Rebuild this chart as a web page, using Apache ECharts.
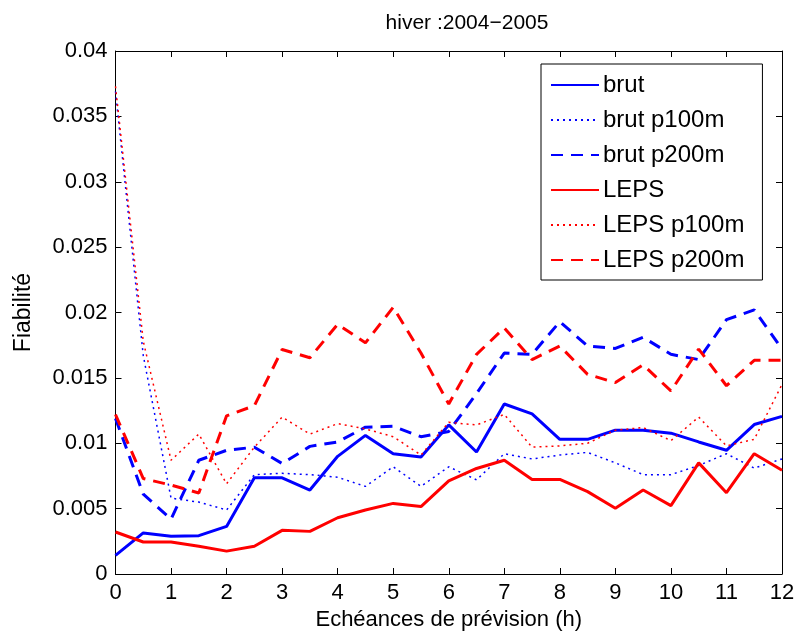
<!DOCTYPE html>
<html>
<head>
<meta charset="utf-8">
<script src="https://cdn.jsdelivr.net/npm/echarts@6/dist/echarts.min.js"></script>
<style>
html,body{margin:0;padding:0;background:#fff;}
#chart{width:800px;height:636px;}
</style>
</head>
<body>
<div id="chart"></div>
<script>
const hours = [0,0.5,1,1.5,2,2.5,3,3.5,4,4.5,5,5.5,6,6.5,7,7.5,8,8.5,9,9.5,10,10.5,11,11.5,12];
const brut = [0.00142,0.00314,0.00288,0.00293,0.00364,0.00736,0.00736,0.00642,0.0090,0.0106,0.0092,0.00895,0.0114,0.00933,0.0130,0.01224,0.0103,0.0103,0.0110,0.0110,0.01077,0.0101,0.00946,0.01143,0.01206];
const brutP100 = [0.0369,0.0167,0.0058,0.0055,0.0049,0.0076,0.0077,0.0076,0.0074,0.0067,0.0082,0.0067,0.0082,0.0072,0.0092,0.0088,0.0091,0.0093,0.0085,0.0076,0.0076,0.0083,0.0092,0.0081,0.0088];
const brutP200 = [0.0119,0.0061,0.0042,0.0087,0.00946,0.0097,0.00845,0.00976,0.0101,0.01123,0.0113,0.0105,0.0109,0.0138,0.0169,0.0168,0.0193,0.01743,0.01725,0.0181,0.0168,0.0164,0.01945,0.0202,0.0172];
const leps = [0.00321,0.00245,0.00245,0.00212,0.00175,0.00212,0.00334,0.00326,0.0043,0.0049,0.0054,0.00516,0.00713,0.00807,0.0087,0.00723,0.00723,0.0063,0.00503,0.00642,0.00523,0.0085,0.00622,0.0092,0.00794];
const lepsP100 = [0.0373,0.0178,0.0087,0.0107,0.0069,0.0097,0.0120,0.0107,0.0115,0.0111,0.0105,0.0091,0.0116,0.0114,0.0122,0.0097,0.0098,0.0100,0.0110,0.0112,0.0102,0.0120,0.0098,0.0103,0.0145];
const lepsP200 = [0.0122,0.0073,0.0068,0.0062,0.0121,0.01287,0.01717,0.01654,0.0191,0.01768,0.0204,0.0169,0.0130,0.0168,0.01882,0.0164,0.01743,0.01527,0.01464,0.0160,0.0140,0.0172,0.0144,0.01634,0.01634];
const xTicks = {min:0, max:12, interval:1};
const yTicks = {min:0, max:0.04, interval:0.005};
const titleText = 'hiver :2004\u22122005';
const xName = 'Echéances de prévision (h)';
const yName = 'Fiabilité';

const FONT = "'Liberation Sans', Arial, Helvetica, sans-serif";
function pairs(arr){ return hours.map((h,i)=>[h,arr[i]]); }
function mk(name, arr, color, width, type){
  return {name:name, type:'line', data:pairs(arr), showSymbol:false, symbol:'none',
    xAxisIndex:0, yAxisIndex:0, animation:false,
    lineStyle:{color:color, width:width, type:type}, itemStyle:{color:color}};
}
const chart = echarts.init(document.getElementById('chart'), null, {renderer:'canvas'});
const axisCommon = {
  axisLine:{show:true, onZero:false, lineStyle:{color:'#000', width:1}},
  axisTick:{show:true, inside:true, length:6, lineStyle:{color:'#000', width:1}},
  splitLine:{show:false}
};
chart.setOption({
  backgroundColor:'#fff',
  animation:false,
  textStyle:{fontFamily:FONT},
  title:{text:titleText, left:462, top:8, textAlign:'center',
    textStyle:{fontFamily:FONT, fontSize:21, fontWeight:'normal', color:'#000'}},
  grid:{left:115.5, right:18, top:51, bottom:58, containLabel:false},
  legend:{
    left:541, top:64, orient:'vertical',
    backgroundColor:'#fff', borderColor:'#000', borderWidth:1,
    padding:[9,18,8,9], itemWidth:48, itemHeight:14, itemGap:11,
    itemStyle:{opacity:0},
    textStyle:{fontFamily:FONT, fontSize:24, lineHeight:24, color:'#000', padding:[0,0,0,-1]},
    data:['brut','brut p100m','brut p200m','LEPS','LEPS p100m','LEPS p200m']
  },
  xAxis:[
    Object.assign({type:'value', position:'bottom', min:xTicks.min, max:xTicks.max, interval:xTicks.interval,
      axisLabel:{color:'#000', fontSize:22, fontFamily:FONT, margin:8},
      name:xName, nameLocation:'middle', nameGap:35,
      nameTextStyle:{color:'#000', fontSize:22, fontFamily:FONT}}, axisCommon),
    Object.assign({type:'value', position:'top', min:xTicks.min, max:xTicks.max, interval:xTicks.interval,
      axisLabel:{show:false}}, axisCommon)
  ],
  yAxis:[
    Object.assign({type:'value', position:'left', min:yTicks.min, max:yTicks.max, interval:yTicks.interval,
      axisLabel:{color:'#000', fontSize:22, fontFamily:FONT, margin:8,
        formatter:function(v){ return String(+(+v).toFixed(3)); }},
      name:yName, nameLocation:'middle', nameGap:80,
      nameTextStyle:{color:'#000', fontSize:23, fontFamily:FONT}}, axisCommon),
    Object.assign({type:'value', position:'right', min:yTicks.min, max:yTicks.max, interval:yTicks.interval,
      axisLabel:{show:false}}, axisCommon)
  ],
  series:[
    mk('brut', brut, '#0000ff', 3, 'solid'),
    mk('brut p100m', brutP100, '#0000ff', 1.5, [2,4]),
    mk('brut p200m', brutP200, '#0000ff', 3, [12,8]),
    mk('LEPS', leps, '#ff0000', 3, 'solid'),
    mk('LEPS p100m', lepsP100, '#ff0000', 1.5, [2,4]),
    mk('LEPS p200m', lepsP200, '#ff0000', 3, [12,8])
  ]
});
</script>
</body>
</html>
